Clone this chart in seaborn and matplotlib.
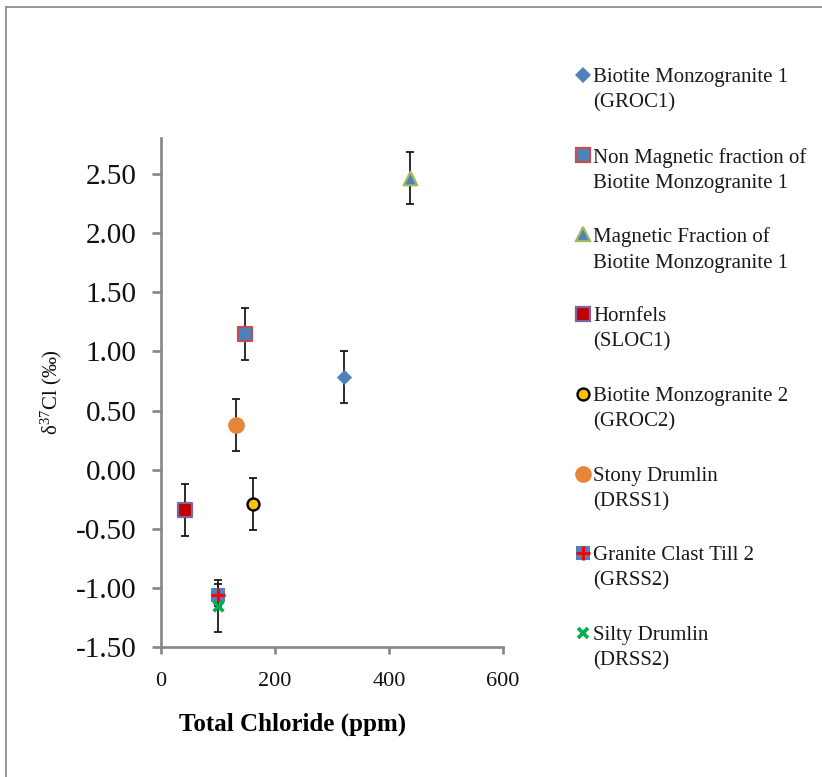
import matplotlib
matplotlib.use("Agg")
import matplotlib.pyplot as plt
from matplotlib.lines import Line2D
from matplotlib.patches import Rectangle
import pandas as pd
import seaborn as sns

# Sample names (legend text), total chloride (ppm), delta-37Cl (permil) and its uncertainty
samples = [
    "Biotite Monzogranite 1\n(GROC1)",
    "Non Magnetic fraction of\nBiotite Monzogranite 1",
    "Magnetic Fraction of\nBiotite Monzogranite 1",
    "Hornfels\n(SLOC1)",
    "Biotite Monzogranite 2\n(GROC2)",
    "Stony Drumlin\n(DRSS1)",
    "Granite Clast Till 2\n(GRSS2)",
    "Silty Drumlin\n(DRSS2)",
]
chloride = [321, 147, 437, 42, 162, 131, 100, 100]
d37cl = [0.78, 1.15, 2.47, -0.34, -0.29, 0.38, -1.06, -1.15]
d37cl_err = [0.22, 0.22, 0.22, 0.22, 0.22, 0.22, 0.09, 0.22]

x_ticks = [0, 200, 400, 600]
y_ticks = [-1.5, -1.0, -0.5, 0.0, 0.5, 1.0, 1.5, 2.0, 2.5]

BLUE = "#4F81BD"
# One marker recipe per sample: list of (marker, size, face, edge, edge width)
styles = [
    [("D", 60, BLUE, BLUE, 0.0)],
    [("s", 98, BLUE, "#C0504D", 1.6)],
    [("^", 95, BLUE, "#9BBB59", 1.6)],
    [("s", 98, "#C00000", "#8064A2", 1.6)],
    [("o", 74, "#FFC000", "black", 1.7)],
    [("o", 144, "#E6843A", "#E6843A", 0.0)],
    [("s", 100, BLUE, BLUE, 0.0), ("+", 110, "#FF0000", "#FF0000", 2.2)],
    [("x", 50, "#00B050", "#00B050", 2.6)],
]

df = pd.DataFrame({"sample": samples, "chloride": chloride,
                   "d37cl": d37cl, "err": d37cl_err})

sns.set_theme(style="white")
plt.rcParams["font.family"] = ["Liberation Serif", "DejaVu Serif"]
plt.rcParams["mathtext.fontset"] = "custom"
plt.rcParams["mathtext.rm"] = "Liberation Serif"
plt.rcParams["mathtext.default"] = "regular"

fig = plt.figure(figsize=(8.22, 7.77), dpi=100)
W, H = 822, 777
ax = fig.add_axes([161 / W, 1 - 647 / H, (503 - 161) / W, (647 - 138) / H])

# error bars sit behind the markers
ax.errorbar(df["chloride"], df["d37cl"], yerr=df["err"], fmt="none",
            ecolor="#1a1a1a", elinewidth=1.3, capsize=2.8, capthick=1.3,
            zorder=1)

for i, row in df.iterrows():
    for j, (m, s, fc, ec, lw) in enumerate(styles[i]):
        sns.scatterplot(x=[row["chloride"]], y=[row["d37cl"]], ax=ax,
                        marker=m, s=s, color=fc, edgecolor=ec,
                        linewidth=lw, zorder=3 + i + j, legend=False)

ax.set_xlim(0, 600)
ax.set_ylim(-1.5, 2.805)
ax.set_xticks(x_ticks)
ax.set_xticklabels([str(v) for v in x_ticks])
ax.set_yticks(y_ticks)
ax.set_yticklabels([f"{v:.2f}" for v in y_ticks])

spine_col = "#868686"
for side in ["top", "right"]:
    ax.spines[side].set_visible(False)
for side in ["left", "bottom"]:
    ax.spines[side].set_color(spine_col)
    ax.spines[side].set_linewidth(1.9)
ax.tick_params(axis="y", which="major", direction="out", length=6.5,
               width=1.9, color=spine_col, labelsize=21, pad=11,
               labelcolor="#111111", left=True)
ax.tick_params(axis="x", which="major", direction="out", length=5,
               width=1.9, color=spine_col, labelsize=16, pad=13,
               labelcolor="#111111", bottom=True)

ax.set_xlabel("Total Chloride (ppm)", fontsize=18, fontweight="bold",
              color="black")
ax.xaxis.set_label_coords((293 - 161) / 342, -(724 - 647) / 509,
                          transform=ax.transAxes)
ax.xaxis.label.set_va("center")
ax.set_ylabel("δ$^{37}$Cl (‰)", fontsize=15, color="#111111")
ax.yaxis.set_label_coords(-(161 - 51) / 342, 0.5, transform=ax.transAxes)
ax.yaxis.label.set_va("center")
ax.patch.set_alpha(0)

# legend column on the right, one entry per sample
mx, tx = 583 / W, 593 / W
for i, label in enumerate(samples):
    yc = 75 + 79.7 * i
    for j, (m, s, fc, ec, lw) in enumerate(styles[i]):
        ms = (s ** 0.5)
        fig.add_artist(Line2D([mx], [1 - yc / H], marker=m, markersize=ms,
                              markerfacecolor=fc, markeredgecolor=ec,
                              markeredgewidth=lw if lw > 0 else 0.0,
                              linestyle="none", transform=fig.transFigure))
    fig.text(tx, 1 - (yc - 7) / H, label, fontsize=15, va="top",
             ha="left", linespacing=1.45, color="#1a1a1a")

# outer chart frame
fig.add_artist(Rectangle((6 / W, -0.2), 1.5, 1.2 - 7 / H,
                         transform=fig.transFigure, fill=False,
                         edgecolor="#8c8c8c", linewidth=1.3))

fig.savefig("out.png", dpi=100, facecolor="white")
